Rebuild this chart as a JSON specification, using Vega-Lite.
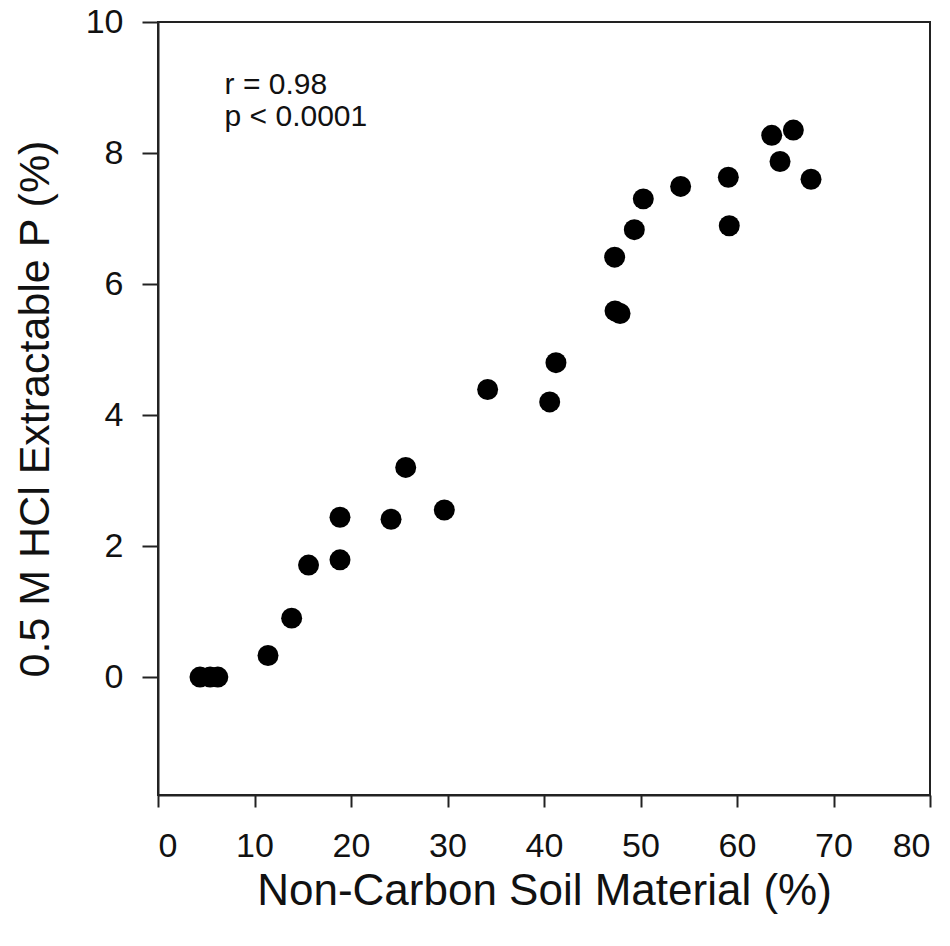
{
  "$schema": "https://vega.github.io/schema/vega-lite/v6.json",
  "autosize": {"type": "none"},
  "padding": {"left": 158, "top": 22, "right": 20, "bottom": 151},
  "width": 772,
  "height": 773,
  "background": "white",
  "config": {
    "view": {"stroke": "#222222", "strokeWidth": 2},
    "font": "Liberation Sans",
    "axis": {
      "grid": false,
      "domainColor": "#222222",
      "domainWidth": 2,
      "tickColor": "#222222",
      "tickWidth": 2,
      "labelFont": "Liberation Sans",
      "labelFontSize": 34,
      "labelColor": "#111111",
      "titleFont": "Liberation Sans",
      "titleFontSize": 44,
      "titleFontWeight": "normal",
      "titleColor": "#111111"
    }
  },
  "data": {
    "values": [
      {"ncsm": 4.35, "p": 0.0},
      {"ncsm": 5.4, "p": 0.0},
      {"ncsm": 6.2, "p": 0.0},
      {"ncsm": 11.4, "p": 0.33},
      {"ncsm": 13.85, "p": 0.9},
      {"ncsm": 15.6, "p": 1.71},
      {"ncsm": 18.86, "p": 1.79},
      {"ncsm": 18.86, "p": 2.44},
      {"ncsm": 24.15, "p": 2.41},
      {"ncsm": 25.67, "p": 3.2},
      {"ncsm": 29.67, "p": 2.55},
      {"ncsm": 34.16, "p": 4.39},
      {"ncsm": 40.59, "p": 4.2},
      {"ncsm": 41.24, "p": 4.8},
      {"ncsm": 47.36, "p": 5.59},
      {"ncsm": 47.88, "p": 5.55},
      {"ncsm": 47.32, "p": 6.41},
      {"ncsm": 49.36, "p": 6.83},
      {"ncsm": 50.29, "p": 7.3},
      {"ncsm": 54.16, "p": 7.49},
      {"ncsm": 59.1, "p": 7.63},
      {"ncsm": 59.2, "p": 6.89},
      {"ncsm": 63.6, "p": 8.27},
      {"ncsm": 65.84, "p": 8.35},
      {"ncsm": 64.46, "p": 7.87},
      {"ncsm": 67.67, "p": 7.6}
    ]
  },
  "layer": [
    {
      "mark": {"type": "point", "filled": true, "shape": "circle", "size": 440, "color": "#000000", "opacity": 1},
      "encoding": {
        "x": {
          "field": "ncsm", "type": "quantitative",
          "scale": {"domain": [0, 80], "nice": false, "zero": false},
          "axis": {"values": [0, 10, 20, 30, 40, 50, 60, 70, 80], "format": "d", "tickSize": 12, "labelPadding": 22, "title": "Non-Carbon Soil Material (%)", "titlePadding": 6}
        },
        "y": {
          "field": "p", "type": "quantitative",
          "scale": {"domain": [-1.8, 10], "nice": false, "zero": false},
          "axis": {"values": [0, 2, 4, 6, 8, 10], "format": "d", "tickSize": 16, "labelPadding": 19, "title": "0.5 M HCl Extractable P (%)", "titlePadding": 28, "titleFontSize": 43}
        }
      }
    },
    {
      "data": {"values": [{}]},
      "mark": {"type": "text", "text": ["r = 0.98", "p < 0.0001"], "align": "left", "baseline": "top", "fontSize": 30, "lineHeight": 32, "color": "#111111", "font": "Liberation Sans"},
      "encoding": {
        "x": {"datum": 6.9},
        "y": {"datum": 9.27}
      }
    }
  ]
}
